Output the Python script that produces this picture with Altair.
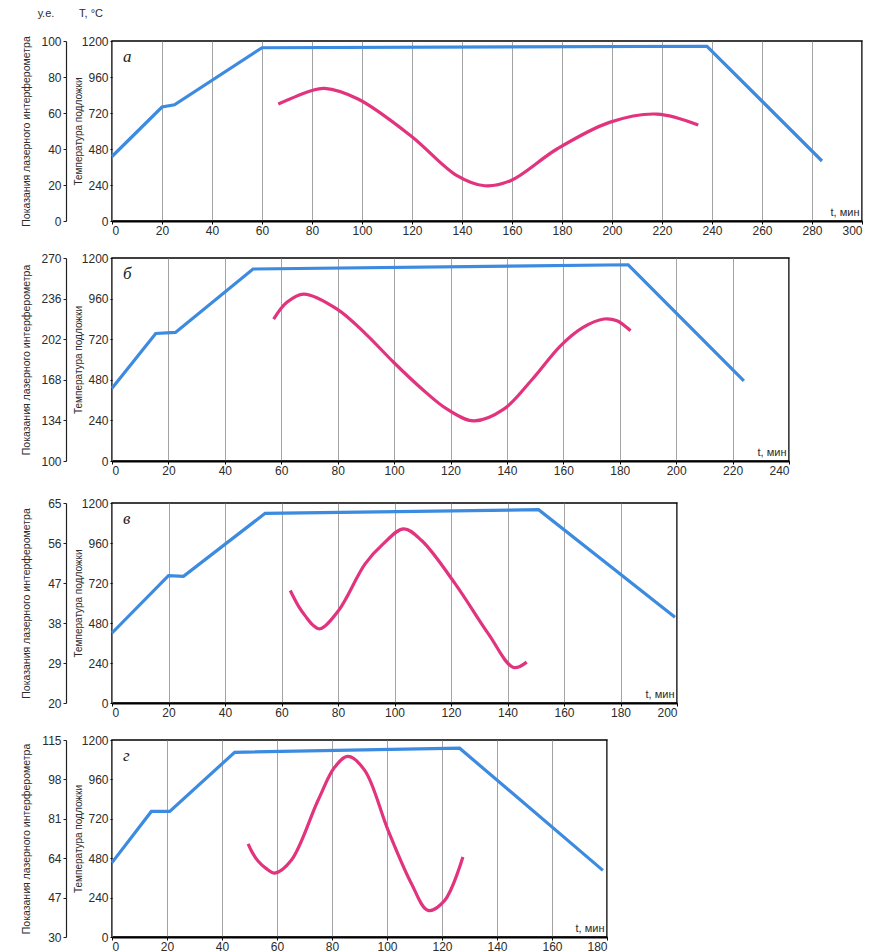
import altair as alt
import pandas as pd

# ---------------- data ----------------
# panel а
A_TEMP_T = [0, 20, 25, 60, 238, 284]
A_TEMP_V = [430, 760, 775, 1155, 1165, 400]
A_SIG_T = [66.5, 79.7, 85, 98.4, 119.5, 138, 149, 159.4, 178, 199, 218, 234.5]
A_SIG_V = [65, 72.4, 73.7, 67.8, 47.4, 25.2, 19.6, 22.4, 40, 54.8, 59.4, 53.3]
A_SIG_TICKS = [0, 20, 40, 60, 80, 100]

# panel б
B_TEMP_T = [0, 15.5, 22.5, 50, 183, 224]
B_TEMP_V = [430, 754, 760, 1135, 1160, 474]
B_SIG_T = [57.3, 62, 68, 79.8, 90, 99.9, 110, 118.8, 128.3, 138.9, 149, 159, 167, 174.4, 179, 183.8]
B_SIG_V = [218.9, 232.9, 239.8, 227.2, 206.3, 182.5, 160.1, 143.4, 133.6, 143.4, 168.5, 196.5, 211.9, 218.9, 217.4, 209.1]
B_SIG_TICKS = [100, 134, 168, 202, 236, 270]

# panel в
C_TEMP_T = [0, 20, 25.3, 54.2, 151, 199.3]
C_TEMP_V = [420, 764, 760, 1138, 1160, 514]
C_SIG_T = [63.1, 66, 68.4, 71, 73.7, 80.2, 89.6, 96, 103.2, 109.7, 121.5, 133.3, 142.1, 146.8]
C_SIG_V = [45.3, 41.8, 39.6, 37.6, 36.7, 40.8, 51.3, 55.8, 59.2, 56.5, 46.8, 35.5, 28.0, 29.2]
C_SIG_TICKS = [20, 29, 38, 47, 56, 65]

# panel г
D_TEMP_T = [0, 14.3, 21, 44.6, 126.4, 178.5]
D_TEMP_V = [453, 765, 765, 1125, 1150, 406]
D_SIG_T = [49.5, 51, 53.1, 56, 59.2, 65.2, 74.9, 81, 85.8, 91.9, 100.4, 108.9, 114.9, 121, 127.6]
D_SIG_V = [70.2, 66.5, 62.8, 59.6, 57.6, 63.1, 88.9, 103.3, 107.9, 101.9, 76.0, 53.0, 41.5, 45.8, 64.5]
D_SIG_TICKS = [30, 47, 64, 81, 98, 115]

TEMP_TICKS = [0, 240, 480, 720, 960, 1200]

FONT = "Liberation Sans"
TXT = "#2b2b2b"
BLUE = "#3d8be0"
PINK = "#e2337e"


def panel(letter, tt, tv, st, sv, sticks, xmax, w, h, top_labels=False):
    temp = pd.DataFrame({"t": tt, "T": tv})
    sig = pd.DataFrame({"t": st, "v": sv})

    xaxis = alt.Axis(
        values=list(range(0, xmax + 1, 20)), format="d",
        grid=True, gridColor="#8c8c8c", gridWidth=0.8,
        domainColor="black", domainWidth=2,
        tickColor="black", tickSize=3,
        labelFont=FONT, labelFontSize=12, labelColor=TXT, labelPadding=1,
        title="t, мин", titleFont=FONT, titleFontSize=11, titleFontWeight="normal",
        titleColor=TXT, titleX=w - 3, titleY=-4, titleAlign="right", titleBaseline="bottom",
    )
    xenc = alt.X("t:Q", scale=alt.Scale(domain=[0, xmax], nice=False, zero=False), axis=xaxis)

    blue = alt.Chart(temp).mark_line(color=BLUE, strokeWidth=3.2).encode(
        x=xenc,
        y=alt.Y("T:Q", scale=alt.Scale(domain=[0, 1200], nice=False),
                axis=alt.Axis(values=TEMP_TICKS, format="d", grid=False, domain=False,
                              tickSize=2, tickColor="black",
                              labelFont=FONT, labelFontSize=12, labelColor=TXT, labelPadding=2,
                              title="Температура подложки", titleFont=FONT, titleFontSize=10,
                              titleFontWeight="normal", titleColor=TXT,
                              titleX=-34, titleY=h / 2, titleAlign="center", titleBaseline="middle")),
    )
    pink = alt.Chart(sig).mark_line(color=PINK, strokeWidth=3.2, interpolate="catmull-rom").encode(
        x=xenc,
        y=alt.Y("v:Q", scale=alt.Scale(domain=[sticks[0], sticks[-1]], nice=False, zero=False),
                axis=alt.Axis(orient="left", offset=46, values=sticks, format="d", grid=False,
                              domainColor="#222", domainWidth=1.2,
                              tickSize=3, tickColor="#222",
                              labelFont=FONT, labelFontSize=12, labelColor=TXT, labelPadding=2,
                              title="Показания лазерного интерферометра", titleFont=FONT,
                              titleFontSize=10.5, titleFontWeight="normal", titleColor=TXT,
                              titleX=-40, titleY=h / 2, titleAlign="center",
                              titleBaseline="middle")),
    )
    lab = alt.Chart(pd.DataFrame({"lbl": [letter]})).mark_text(
        font="Liberation Serif", fontStyle="italic", fontSize=17, align="left",
        baseline="middle", color="#222"
    ).encode(text="lbl:N", x=alt.value(11), y=alt.value(16))

    layers = [blue, pink, lab]
    if top_labels:
        units = alt.Chart(pd.DataFrame({"lbl": ["у.е.", "T, °C"], "px": [-66, -21]})).mark_text(
            font=FONT, fontSize=11, color=TXT, baseline="middle", align="center"
        ).encode(text="lbl:N", x=alt.X("px:Q", scale=None), y=alt.value(-27))
        layers.append(units)
    return alt.layer(*layers).resolve_scale(y="independent").properties(width=w, height=h)


pa = panel("а", A_TEMP_T, A_TEMP_V, A_SIG_T, A_SIG_V, A_SIG_TICKS, 300, 750, 180, top_labels=True)
pb = panel("б", B_TEMP_T, B_TEMP_V, B_SIG_T, B_SIG_V, B_SIG_TICKS, 240, 677, 203)
pc = panel("в", C_TEMP_T, C_TEMP_V, C_SIG_T, C_SIG_V, C_SIG_TICKS, 200, 565, 200)
pd_ = panel("г", D_TEMP_T, D_TEMP_V, D_SIG_T, D_SIG_V, D_SIG_TICKS, 180, 495, 197)

top = alt.vconcat(pa, pb, spacing=14)
bottom = alt.vconcat(pc, pd_, spacing=14)

chart = alt.vconcat(top, bottom, spacing=19).properties(
    padding={"left": 20, "top": 7, "right": 2, "bottom": 0},
    background="white",
).configure_view(stroke="black", strokeWidth=1.5)

chart.save("out.html", embed_options={"renderer": "svg", "actions": False})
